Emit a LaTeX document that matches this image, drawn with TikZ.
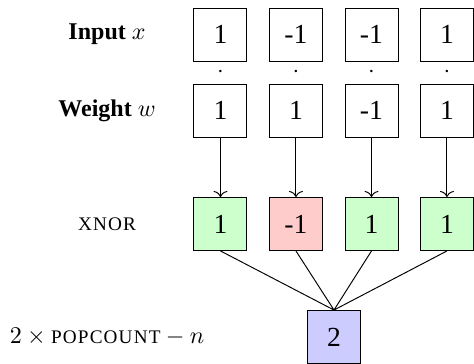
\documentclass[tikz,border=0pt]{standalone}
\usepackage{amsmath}
\usepackage{fontspec}
\setmainfont{Liberation Serif}
\newfontfamily\capsfont[LetterSpace=6]{Liberation Serif}
\newcommand{\smallcaps}[1]{{\fontsize{8}{9}\capsfont #1}}
\usepackage{tikz}
\usetikzlibrary{calc}
\usetikzlibrary{arrows.meta}

\tikzset{
  cell/.style = {draw, minimum size=0.776cm, inner sep=0pt, font=\fontsize{11.5}{13}\selectfont},
  xcell/.style = {cell, fill=green!20},
  ncell/.style = {cell, fill=red!20},
  sumcell/.style = {cell, fill=blue!20},
  rowlabel/.style = {anchor=center}
}

\begin{document}
\begin{tikzpicture}
      \useasboundingbox (0, 0) rectangle (6.940, -5.329);
      % Row labels
      \node[rowlabel] (linput) at (1.567, -0.505) {\textbf{Input} $x$};
      \node[rowlabel] (lweight) at (1.567, -1.618) {\textbf{Weight} $w$};
      \node[rowlabel] (lxnor) at (1.567, -3.279) {\smallcaps{XNOR}};
      \node[rowlabel] (lpop) at (1.567, -4.934) {$2 \times \text{\smallcaps{POPCOUNT}} - n$};
      % Input row
      \node[cell] (in1) at (3.228, -0.505) {1};
      \node[cell] (in2) at (4.333, -0.505) {-1};
      \node[cell] (in3) at (5.439, -0.505) {-1};
      \node[cell] (in4) at (6.544, -0.505) {1};
      % dots between input and weight
      \node (dot1) at (3.228, -1.054) {$\cdot$};
      \node (dot2) at (4.333, -1.054) {$\cdot$};
      \node (dot3) at (5.439, -1.054) {$\cdot$};
      \node (dot4) at (6.544, -1.054) {$\cdot$};
      % Weight row
      \node[cell] (w1) at (3.228, -1.618) {1};
      \node[cell] (w2) at (4.333, -1.618) {1};
      \node[cell] (w3) at (5.439, -1.618) {-1};
      \node[cell] (w4) at (6.544, -1.618) {1};
      % XNOR row
      \node[xcell] (x1) at (3.228, -3.279) {1};
      \node[ncell] (x2) at (4.333, -3.279) {-1};
      \node[xcell] (x3) at (5.439, -3.279) {1};
      \node[xcell] (x4) at (6.544, -3.279) {1};
      % popcount result
      \node[sumcell] (pc) at (4.890, -4.934) {2};
      % weight -> xnor
      \draw[->, >={To[length=2.5pt, width=5.8pt]}] (w1) -- (x1);
      \draw[->, >={To[length=2.5pt, width=5.8pt]}] (w2) -- (x2);
      \draw[->, >={To[length=2.5pt, width=5.8pt]}] (w3) -- (x3);
      \draw[->, >={To[length=2.5pt, width=5.8pt]}] (w4) -- (x4);
      % xnor -> popcount
      \draw (x1.south) -- (pc.north) (x2.south) -- (pc.north) (x3.south) -- (pc.north) (x4.south) -- (pc.north);
\end{tikzpicture}
\end{document}
